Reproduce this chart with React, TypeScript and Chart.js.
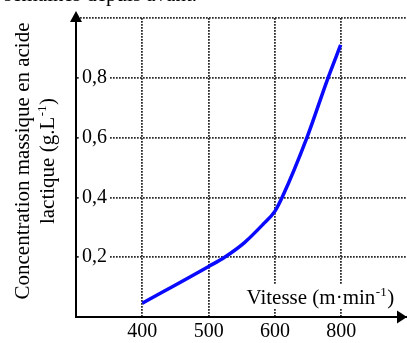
import React, { useEffect, useRef } from 'react';
import { Chart, registerables } from 'chart.js';

Chart.register(...registerables);

// ---- data ----
const speeds = [400, 500, 524, 554, 582, 600, 611, 648, 680, 699];
const concentrations = [0.046, 0.169, 0.2, 0.249, 0.31, 0.354, 0.401, 0.599, 0.8, 0.91];

const xTickValues = [400, 500, 600, 700];
const xTickLabels = ['400', '500', '600', '800'];
const yTickValues = [0.2, 0.4, 0.6, 0.8, 1.0];
const yTickLabels = ['0,2', '0,4', '0,6', '0,8', ''];

const yTitleLine1 = 'Concentration massique en acide';
const yTitleLine2 = 'lactique (g.L';
const xTitle = 'Vitesse (m·min';
const unitExponent = '-1';
const closingParen = ')';
const topText = 'semaines depuis avant.';

const FONT = '"Liberation Serif", "Times New Roman", serif';

const decorPlugin = {
  id: 'decor',
  afterDraw(chart: any) {
    const { ctx, chartArea: a } = chart;
    ctx.save();
    ctx.fillStyle = '#000';

    // arrow on y axis
    ctx.beginPath();
    ctx.moveTo(a.left, a.top - 7);
    ctx.lineTo(a.left - 6, a.top + 4);
    ctx.lineTo(a.left + 6, a.top + 4);
    ctx.closePath();
    ctx.fill();

    // arrow on x axis
    ctx.beginPath();
    ctx.moveTo(a.right, a.bottom);
    ctx.lineTo(a.right - 10, a.bottom - 6.5);
    ctx.lineTo(a.right - 10, a.bottom + 6.5);
    ctx.closePath();
    ctx.fill();

    // x title with white backdrop
    ctx.fillStyle = '#fff';
    ctx.fillRect(237, a.bottom - 32, a.right - 237, 23);
    ctx.fillStyle = '#000';
    ctx.textAlign = 'left';
    ctx.textBaseline = 'alphabetic';
    const big = `21px ${FONT}`;
    const small = `13px ${FONT}`;
    let x = 246.5;
    const by = a.bottom - 13;
    ctx.font = big;
    ctx.fillText(xTitle, x, by);
    x += ctx.measureText(xTitle).width;
    ctx.font = small;
    ctx.fillText(unitExponent, x + 0.5, by - 8);
    x += ctx.measureText(unitExponent).width + 1;
    ctx.font = big;
    ctx.fillText(closingParen, x, by);

    // y title (rotated, two lines)
    const cy = 161;
    ctx.save();
    ctx.translate(29, cy);
    ctx.rotate(-Math.PI / 2);
    ctx.font = big;
    ctx.textAlign = 'center';
    ctx.fillText(yTitleLine1, 0, 0);
    ctx.restore();

    ctx.save();
    ctx.translate(53.5, cy);
    ctx.rotate(-Math.PI / 2);
    ctx.textAlign = 'left';
    ctx.font = big;
    const w1 = ctx.measureText(yTitleLine2).width;
    ctx.font = small;
    const w2 = ctx.measureText(unitExponent).width + 1;
    ctx.font = big;
    const w3 = ctx.measureText(closingParen).width;
    let tx = -(w1 + w2 + w3) / 2;
    ctx.fillText(yTitleLine2, tx, 0);
    tx += w1;
    ctx.font = small;
    ctx.fillText(unitExponent, tx + 0.5, -8);
    tx += w2;
    ctx.font = big;
    ctx.fillText(closingParen, tx, 0);
    ctx.restore();

    // cropped line of text at the very top
    ctx.font = big;
    ctx.textAlign = 'left';
    ctx.fillText(topText, 4, 1);

    ctx.restore();
  },
};

export default function App() {
  const ref = useRef<HTMLCanvasElement | null>(null);

  useEffect(() => {
    if (!ref.current) return;
    const chart = new Chart(ref.current, {
      type: 'line',
      data: {
        datasets: [
          {
            data: speeds.map((s, i) => ({ x: s, y: concentrations[i] })),
            borderColor: '#0a0aff',
            borderWidth: 3.5,
            pointRadius: 0,
            cubicInterpolationMode: 'monotone',
            fill: false,
          },
        ],
      },
      options: {
        animation: false,
        responsive: false,
        maintainAspectRatio: false,
        layout: { padding: { left: 76, top: 14.5, right: 0, bottom: 0 } },
        plugins: {
          legend: { display: false },
          tooltip: { enabled: false },
          title: { display: false },
        },
        scales: {
          x: {
            type: 'linear',
            min: 300,
            max: 799,
            afterFit: (s: any) => {
              s.height = 26;
            },
            afterBuildTicks: (s: any) => {
              s.ticks = xTickValues.map((v) => ({ value: v }));
            },
            ticks: {
              autoSkip: false,
              maxRotation: 0,
              padding: 3,
              color: '#000',
              font: { family: FONT, size: 20 },
              callback: (v: any) => {
                const i = xTickValues.indexOf(Number(v));
                return i >= 0 ? xTickLabels[i] : '';
              },
            },
            grid: { color: '#2a2a2a', lineWidth: 1.8, drawTicks: false },
            border: { display: true, color: '#000', width: 2, dash: [1.7, 1.3] },
          },
          y: {
            type: 'linear',
            min: 0,
            max: 1,
            afterFit: (s: any) => {
              s.width = 0;
            },
            afterBuildTicks: (s: any) => {
              s.ticks = yTickValues.map((v) => ({ value: v }));
            },
            ticks: {
              mirror: true,
              padding: 6,
              color: '#000',
              font: { family: FONT, size: 20 },
              showLabelBackdrop: (c: any) => {
                const i = yTickValues.indexOf(c.tick?.value);
                return i >= 0 && yTickLabels[i] !== '';
              },
              backdropColor: '#fff',
              backdropPadding: 2,
              callback: (v: any) => {
                const i = yTickValues.indexOf(Number(v));
                return i >= 0 ? yTickLabels[i] : '';
              },
            },
            grid: { color: '#2a2a2a', lineWidth: 1.8, drawTicks: false },
            border: { display: true, color: '#000', width: 2, dash: [1.7, 1.3] },
          },
        },
      } as any,
      plugins: [decorPlugin],
    });
    return () => chart.destroy();
  }, []);

  return (
    <div style={{ position: 'fixed', left: 0, top: 0, width: 407, height: 343, background: '#fff' }}>
      <canvas ref={ref} width={407} height={343} style={{ display: 'block', width: 407, height: 343 }} />
    </div>
  );
}
